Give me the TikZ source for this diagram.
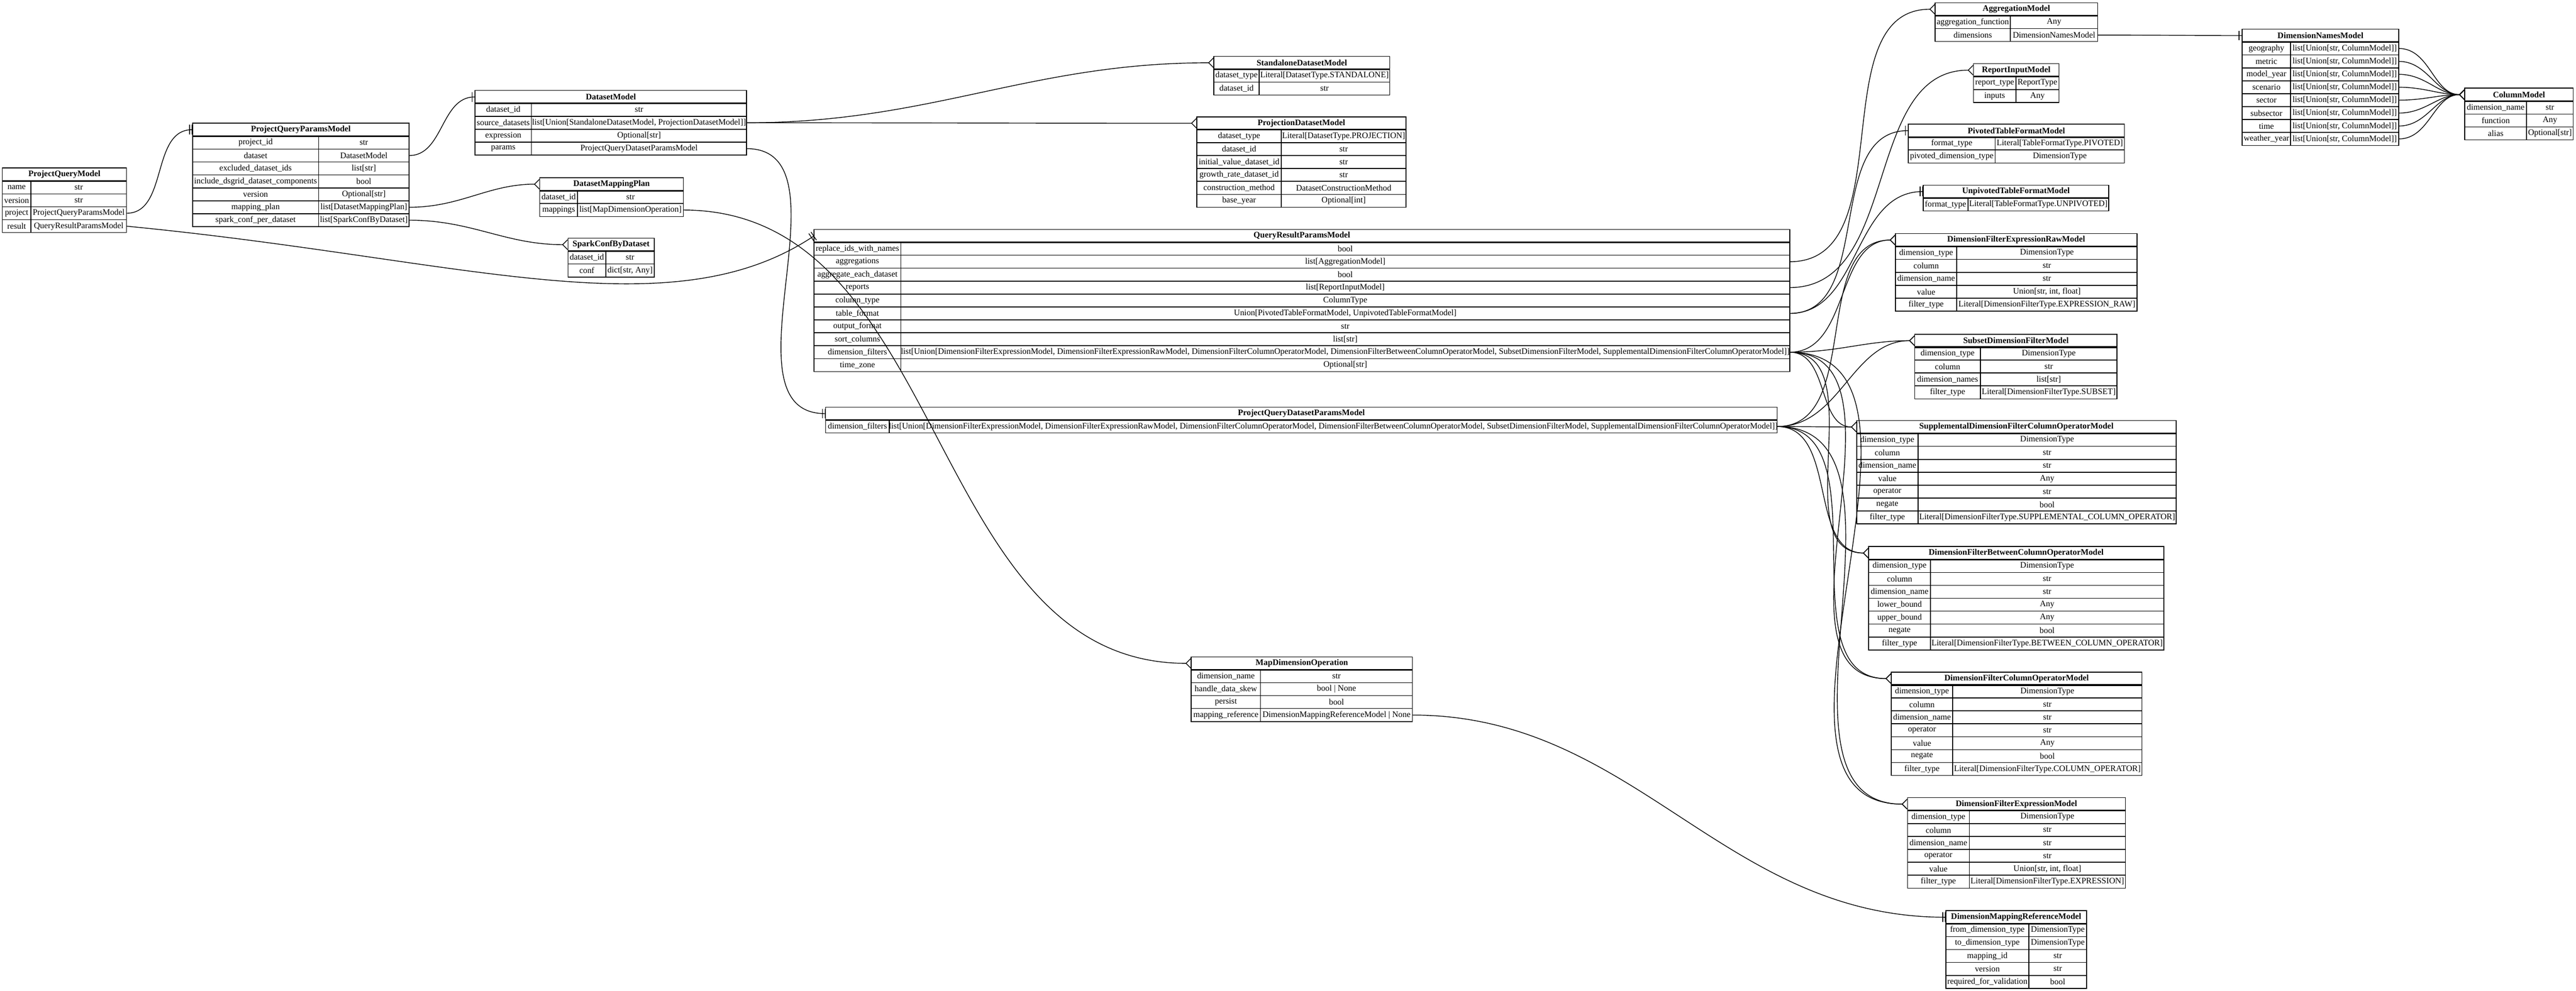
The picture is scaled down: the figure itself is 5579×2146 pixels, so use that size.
\documentclass[tikz,border=0pt]{standalone}
\usepackage{fontspec}
\setmainfont{Liberation Serif}
\usetikzlibrary{arrows.meta}

% one table: name, left, top, divider, right, title, rows field/type
\newcommand{\ertable}[7]{%
  \draw[cell] (#2,#3) rectangle (#5,{#3+28});
  \node[titletext] (#1) at ({(#2+#5)/2},{#3+14}) {#6};
  \coordinate (#1-in) at (#2,{#3+14});
  \foreach \f/\t [count=\i] in {#7}{
    \draw[cell] (#2,{#3+28*\i}) rectangle (#4,{#3+28*\i+28});
    \draw[cell] (#4,{#3+28*\i}) rectangle (#5,{#3+28*\i+28});
    \node[celltext] at ({(#2+#4)/2},{#3+28*\i+14}) {\f};
    \node[celltext] at ({(#4+#5)/2},{#3+28*\i+14}) {\t};
    \coordinate (#1-\i) at (#5,{#3+28*\i+14});
  }
  \draw[headline] (#2,{#3+28}) -- (#5,{#3+28});
}
\newcommand{\dfilters}{list[Union[DimensionFilterExpressionModel, DimensionFilterExpressionRawModel, DimensionFilterColumnOperatorModel, DimensionFilterBetweenColumnOperatorModel, SubsetDimensionFilterModel, SupplementalDimensionFilterColumnOperatorModel]]}

\tikzset{
  cell/.style={draw=black, line width=0.5pt},
  headline/.style={line width=1pt},
  titletext/.style={inner sep=0pt, font=\fontsize{5.2}{6}\selectfont\bfseries},
  celltext/.style={inner sep=0pt, font=\fontsize{5.2}{6}\selectfont},
  link/.style={line width=0.45pt},
  many/.style={link, -{Straight Barb[reversed,length=3pt,width=6pt]}},
  one/.style={link, -{Bar[width=6pt,sep=1.2pt]Bar[width=6pt]}}
}

\begin{document}
\begin{tikzpicture}[x=0.01cm, y=-0.01cm]
  \useasboundingbox (0,0) rectangle (5579,2146);

  \ertable{pqm}{5}{364}{67}{274}{ProjectQueryModel}{name/str, version/str,
    project/ProjectQueryParamsModel, result/QueryResultParamsModel}
  \ertable{pqp}{417}{267}{690}{886}{ProjectQueryParamsModel}{project\_id/str,
    dataset/DatasetModel, excluded\_dataset\_ids/list[str],
    include\_dsgrid\_dataset\_components/bool, version/Optional[str],
    mapping\_plan/list[DatasetMappingPlan], spark\_conf\_per\_dataset/list[SparkConfByDataset]}
  \ertable{dm}{1029}{196}{1151}{1617}{DatasetModel}{dataset\_id/str,
    source\_datasets/{list[Union[StandaloneDatasetModel, ProjectionDatasetModel]]},
    expression/Optional[str], params/ProjectQueryDatasetParamsModel}
  \ertable{dmp}{1169}{385}{1251}{1480}{DatasetMappingPlan}{dataset\_id/str,
    mappings/list[MapDimensionOperation]}
  \ertable{scd}{1230}{516}{1312}{1417}{SparkConfByDataset}{dataset\_id/str,
    conf/{dict[str, Any]}}
  \ertable{sdm}{2629}{122}{2727}{3010}{StandaloneDatasetModel}{dataset\_type/Literal[DatasetType.STANDALONE],
    dataset\_id/str}
  \ertable{pdm}{2592}{253}{2775}{3045}{ProjectionDatasetModel}{dataset\_type/Literal[DatasetType.PROJECTION],
    dataset\_id/str, initial\_value\_dataset\_id/str, growth\_rate\_dataset\_id/str,
    construction\_method/DatasetConstructionMethod, base\_year/Optional[int]}
  \ertable{qrp}{1763}{497}{1951}{3876}{QueryResultParamsModel}{replace\_ids\_with\_names/bool,
    aggregations/list[AggregationModel], aggregate\_each\_dataset/bool,
    reports/list[ReportInputModel], column\_type/ColumnType,
    table\_format/{Union[PivotedTableFormatModel, UnpivotedTableFormatModel]},
    output\_format/str, sort\_columns/list[str], dimension\_filters/\dfilters,
    time\_zone/Optional[str]}
  \ertable{pqdp}{1788}{882}{1926}{3849}{ProjectQueryDatasetParamsModel}{dimension\_filters/\dfilters}
  \ertable{mdo}{2580}{1423}{2730}{3059}{MapDimensionOperation}{dimension\_name/str,
    handle\_data\_skew/bool | None, persist/bool,
    mapping\_reference/DimensionMappingReferenceModel | None}
  \ertable{dmr}{4214}{1973}{4394}{4519}{DimensionMappingReferenceModel}{from\_dimension\_type/DimensionType,
    to\_dimension\_type/DimensionType, mapping\_id/str, version/str,
    required\_for\_validation/bool}
  \ertable{agg}{4191}{6}{4354}{4543}{AggregationModel}{aggregation\_function/Any,
    dimensions/DimensionNamesModel}
  \ertable{rim}{4274}{138}{4366}{4459}{ReportInputModel}{report\_type/ReportType, inputs/Any}
  \ertable{ptf}{4133}{269}{4321}{4601}{PivotedTableFormatModel}{format\_type/Literal[TableFormatType.PIVOTED],
    pivoted\_dimension\_type/DimensionType}
  \ertable{utf}{4165}{401}{4262}{4567}{UnpivotedTableFormatModel}{format\_type/Literal[TableFormatType.UNPIVOTED]}
  \ertable{dnm}{4856}{63}{4961}{5195}{DimensionNamesModel}{geography/{list[Union[str, ColumnModel]]},
    metric/{list[Union[str, ColumnModel]]}, model\_year/{list[Union[str, ColumnModel]]},
    scenario/{list[Union[str, ColumnModel]]}, sector/{list[Union[str, ColumnModel]]},
    subsector/{list[Union[str, ColumnModel]]}, time/{list[Union[str, ColumnModel]]},
    weather\_year/{list[Union[str, ColumnModel]]}}
  \ertable{cm}{5338}{191}{5472}{5573}{ColumnModel}{dimension\_name/str, function/Any, alias/Optional[str]}
  \ertable{dferaw}{4105}{506}{4238}{4628}{DimensionFilterExpressionRawModel}{dimension\_type/DimensionType,
    column/str, dimension\_name/str, value/{Union[str, int, float]},
    filter\_type/Literal[DimensionFilterType.EXPRESSION\_RAW]}
  \ertable{sdf}{4147}{724}{4289}{4585}{SubsetDimensionFilterModel}{dimension\_type/DimensionType,
    column/str, dimension\_names/list[str], filter\_type/Literal[DimensionFilterType.SUBSET]}
  \ertable{sdfco}{4021}{911}{4154}{4713}{SupplementalDimensionFilterColumnOperatorModel}{dimension\_type/DimensionType,
    column/str, dimension\_name/str, value/Any, operator/str, negate/bool,
    filter\_type/Literal[DimensionFilterType.SUPPLEMENTAL\_COLUMN\_OPERATOR]}
  \ertable{dfbco}{4047}{1184}{4181}{4686}{DimensionFilterBetweenColumnOperatorModel}{dimension\_type/DimensionType,
    column/str, dimension\_name/str, lower\_bound/Any, upper\_bound/Any, negate/bool,
    filter\_type/Literal[DimensionFilterType.BETWEEN\_COLUMN\_OPERATOR]}
  \ertable{dfco}{4096}{1456}{4229}{4639}{DimensionFilterColumnOperatorModel}{dimension\_type/DimensionType,
    column/str, dimension\_name/str, operator/str, value/Any, negate/bool,
    filter\_type/Literal[DimensionFilterType.COLUMN\_OPERATOR]}
  \ertable{dfe}{4131}{1728}{4265}{4603}{DimensionFilterExpressionModel}{dimension\_type/DimensionType,
    column/str, dimension\_name/str, operator/str, value/{Union[str, int, float]},
    filter\_type/Literal[DimensionFilterType.EXPRESSION]}

  % relations
  \draw[one] (pqm-3) to[out=0,in=180] (pqp-in);
  \draw[one] (pqm-4) .. controls (1000,560) and (1450,720) .. (qrp-in);
  \draw[one] (pqp-2) to[out=0,in=180] (dm-in);
  \draw[many] (pqp-6) to[out=0,in=180] (dmp-in);
  \draw[many] (pqp-7) to[out=0,in=180] (scd-in);
  \draw[many] (dm-2) to[out=0,in=180] (sdm-in);
  \draw[many] (dm-2) to[out=0,in=180] (pdm-in);
  \draw[one] (dm-4) to[out=0,in=180] (pqdp-in);
  \draw[many] (dmp-2) to[out=0,in=180] (mdo-in);
  \draw[one] (mdo-4) to[out=0,in=180] (dmr-in);
  \draw[many] (qrp-2) to[out=0,in=180] (agg-in);
  \draw[many] (qrp-4) to[out=0,in=180] (rim-in);
  \draw[one] (qrp-6) to[out=0,in=180] (ptf-in);
  \draw[one] (qrp-6) to[out=0,in=180] (utf-in);
  \draw[one] (agg-2) to[out=0,in=180] (dnm-in);
  \foreach \r in {1,...,8}
    \draw[many] (dnm-\r) to[out=0,in=180] (cm-in);
  \foreach \t in {dferaw,sdf,sdfco,dfbco,dfco,dfe}{
    \draw[many] (qrp-9) to[out=0,in=180] (\t-in);
    \draw[many] (pqdp-1) to[out=0,in=180] (\t-in);
  }
\end{tikzpicture}
\end{document}
